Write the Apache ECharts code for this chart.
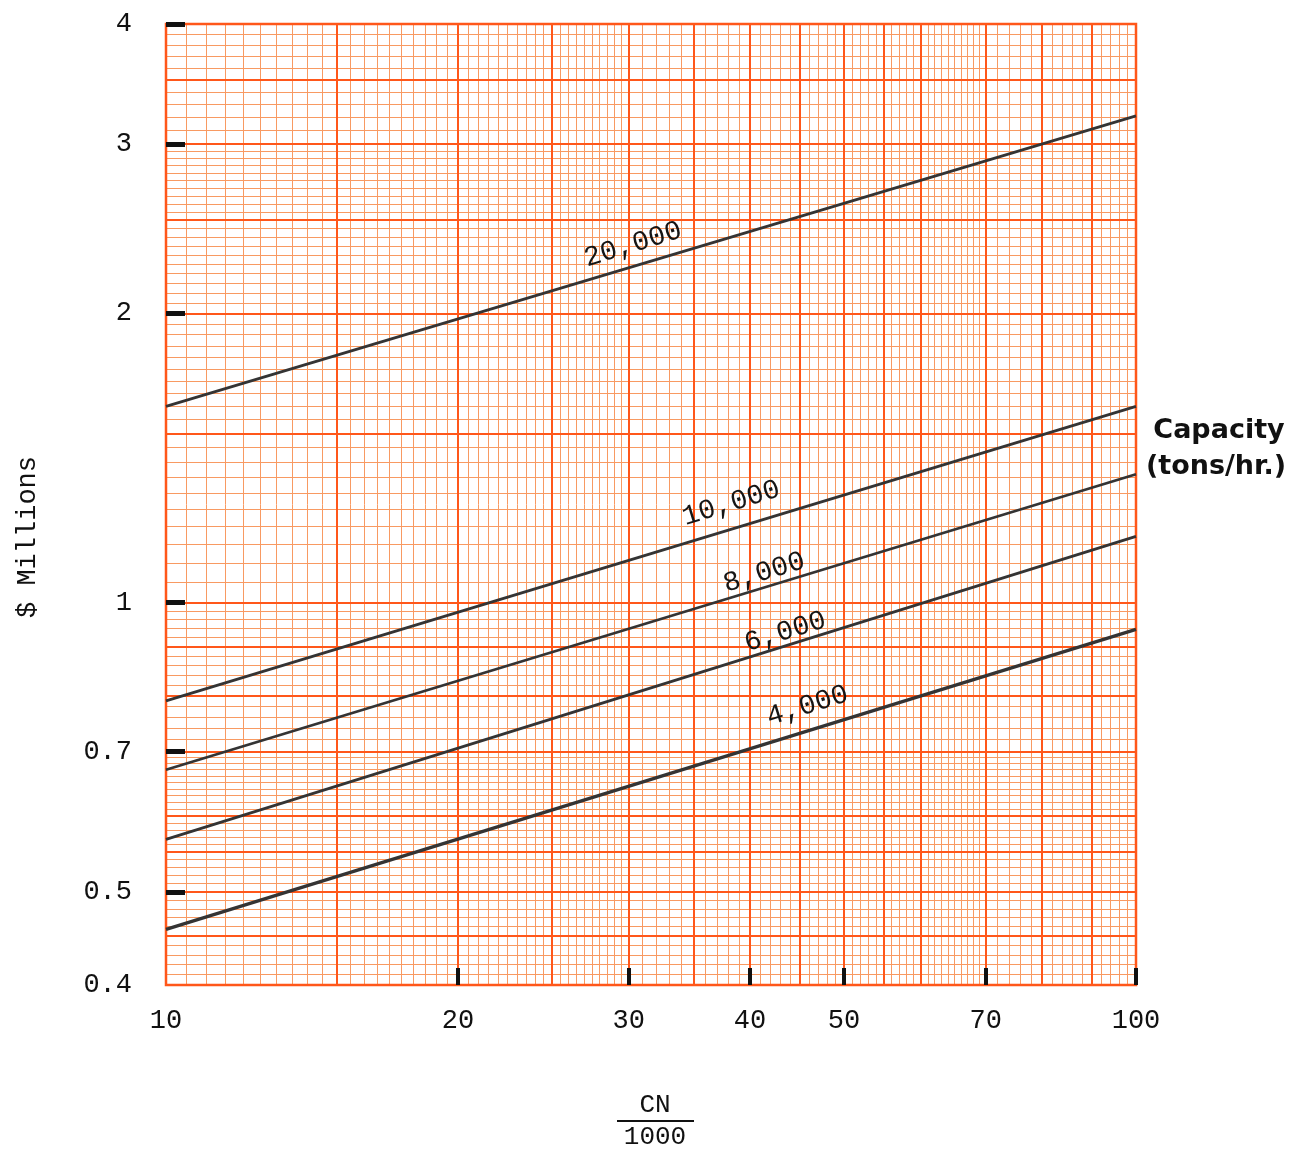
<!DOCTYPE html>
<html><head><meta charset="utf-8">
<script src="https://cdn.jsdelivr.net/npm/echarts@6/dist/echarts.min.js"></script>
<style>html,body{margin:0;padding:0;background:#fff}#c{width:1298px;height:1162px}</style>
</head><body><div id="c"></div>
<script>
// ---- data ----
const capacities = ['20,000', '10,000', '8,000', '6,000', '4,000'];
const xEnds = [10, 100];
const costAt10 = [1.6, 0.79, 0.67, 0.567, 0.457];
const costAt100 = [3.21, 1.6, 1.36, 1.172, 0.938];
const xTickLabels = [10, 20, 30, 40, 50, 70, 100];
const yTickLabels = [0.4, 0.5, 0.7, 1, 2, 3, 4];
const xTickMarks = [20, 30, 40, 50, 70, 100];
const yTickMarks = [0.5, 0.7, 1, 2, 3, 4];
// graph-paper rulings: [from, to, step]
const xMajorSpec = [[10, 60, 5], [60, 100, 10]];
const xMinorSpec = [[10, 30, 0.5], [30, 70, 1], [70, 100, 2]];
const yMajorSpec = [[0.4, 0.6, 0.05], [0.6, 1, 0.1], [1, 4, 0.5]];
const yMinorSpec = [[0.4, 0.7, 0.01], [0.7, 1, 0.02], [1, 3, 0.05], [3, 4, 0.1]];

// ---- label placement (style, not data) ----
const labelAtX = [31.2, 39.6, 42.2, 44.3, 47.4];
const labelLift = [22, 26, 15, 14, 25];

const MAJOR = '#ff571a', MINOR = '#f89a62', INK = '#343434';
const MONO = '"Liberation Mono", "DejaVu Sans Mono", monospace';

function expand(spec) {
  const out = [];
  spec.forEach(([a, b, s]) => {
    const n = Math.round((b - a) / s);
    for (let i = 0; i <= n; i++) {
      const v = +(a + i * s).toFixed(4);
      if (out.indexOf(v) < 0) out.push(v);
    }
  });
  return out;
}
const xMajor = expand(xMajorSpec), yMajor = expand(yMajorSpec);
const xMinor = expand(xMinorSpec).filter(v => xMajor.indexOf(v) < 0);
const yMinor = expand(yMinorSpec).filter(v => yMajor.indexOf(v) < 0);
const fmt = v => String(+(+v).toPrecision(6));

function ruleAxis(kind, values, color, width, z) {
  const isX = kind === 'x';
  return {
    type: 'log', logBase: 10, min: isX ? 10 : 0.4, max: isX ? 100 : 4,
    position: isX ? 'bottom' : 'left', offset: 0, z: z,
    axisLine: { show: false }, axisLabel: { show: false },
    axisTick: { show: false, customValues: values },
    splitLine: { show: true, lineStyle: { color: color, width: width, type: 'solid' } },
    axisPointer: { show: false }, silent: true
  };
}

const chart = echarts.init(document.getElementById('c'), null, { renderer: 'canvas' });
const ang = 17;
const rad = ang * Math.PI / 180;

const curveSeries = capacities.map((c, i) => {
  const k = Math.log10(costAt100[i] / costAt10[i]);
  const yl = costAt10[i] * Math.pow(labelAtX[i] / 10, k);
  const d = labelLift[i];
  return {
    type: 'line', name: c, z: 5, symbol: 'none', silent: true,
    xAxisIndex: 2, yAxisIndex: 2,
    data: xEnds.map((x, j) => [x, j ? costAt100[i] : costAt10[i]]),
    lineStyle: { color: INK, width: i === 4 ? 3.4 : 2.8 },
    markPoint: {
      symbol: 'circle', symbolSize: 1, itemStyle: { color: 'rgba(0,0,0,0)' },
      silent: true, animation: false,
      data: [{ coord: [labelAtX[i], yl], name: c }],
      label: {
        show: true, formatter: c, position: 'inside', rotate: ang,
        offset: [-Math.sin(rad) * d, -Math.cos(rad) * d],
        fontFamily: MONO, fontSize: 28, color: '#151515'
      }
    }
  };
});

chart.setOption({
  animation: false,
  backgroundColor: '#ffffff',
  grid: { left: 166, right: 162, top: 24, bottom: 177, show: true, z: 3,
          borderColor: MAJOR, borderWidth: 2.5, backgroundColor: 'transparent' },
  xAxis: [
    ruleAxis('x', xMinor, MINOR, 1, 0),
    ruleAxis('x', xMajor, MAJOR, 2, 1),
    {
      type: 'log', logBase: 10, min: 10, max: 100, position: 'bottom', offset: 0, z: 4,
      axisLine: { show: false },
      splitLine: { show: false },
      axisTick: { show: true, inside: true, length: 17, customValues: xTickMarks,
                  lineStyle: { color: '#111', width: 4 } },
      axisLabel: { customValues: xTickLabels, formatter: fmt, margin: 22,
                   fontFamily: MONO, fontSize: 27, color: '#111' }
    }
  ],
  yAxis: [
    ruleAxis('y', yMinor, MINOR, 1, 0),
    ruleAxis('y', yMajor, MAJOR, 2, 1),
    {
      type: 'log', logBase: 10, min: 0.4, max: 4, position: 'left', offset: 0, z: 4,
      axisLine: { show: false },
      splitLine: { show: false },
      axisTick: { show: true, inside: true, length: 19, customValues: yTickMarks,
                  lineStyle: { color: '#111', width: 5 } },
      axisLabel: { customValues: yTickLabels, formatter: fmt, margin: 34,
                   fontFamily: MONO, fontSize: 27, color: '#111' }
    }
  ],
  graphic: [
    { type: 'text', x: 28, y: 537, rotation: Math.PI / 2,
      style: { text: '$ Millions', font: '27px ' + MONO, fill: '#111',
               align: 'center', verticalAlign: 'middle' } },
    { type: 'text', x: 655, y: 1105,
      style: { text: 'CN', font: '26px ' + MONO, fill: '#111',
               align: 'center', verticalAlign: 'middle' } },
    { type: 'line', shape: { x1: 617, y1: 1121, x2: 694, y2: 1121 },
      style: { stroke: '#111', lineWidth: 2 } },
    { type: 'text', x: 655, y: 1137,
      style: { text: '1000', font: '26px ' + MONO, fill: '#111',
               align: 'center', verticalAlign: 'middle' } },
    { type: 'text', x: 1219, y: 431,
      style: { text: 'Capacity', font: 'bold 27px "DejaVu Sans", sans-serif', fill: '#111',
               align: 'center', verticalAlign: 'middle' } },
    { type: 'text', x: 1216, y: 467,
      style: { text: '(tons/hr.)', font: 'bold 27px "DejaVu Sans", sans-serif', fill: '#111',
               align: 'center', verticalAlign: 'middle' } }
  ],
  series: curveSeries
});
</script></body></html>
